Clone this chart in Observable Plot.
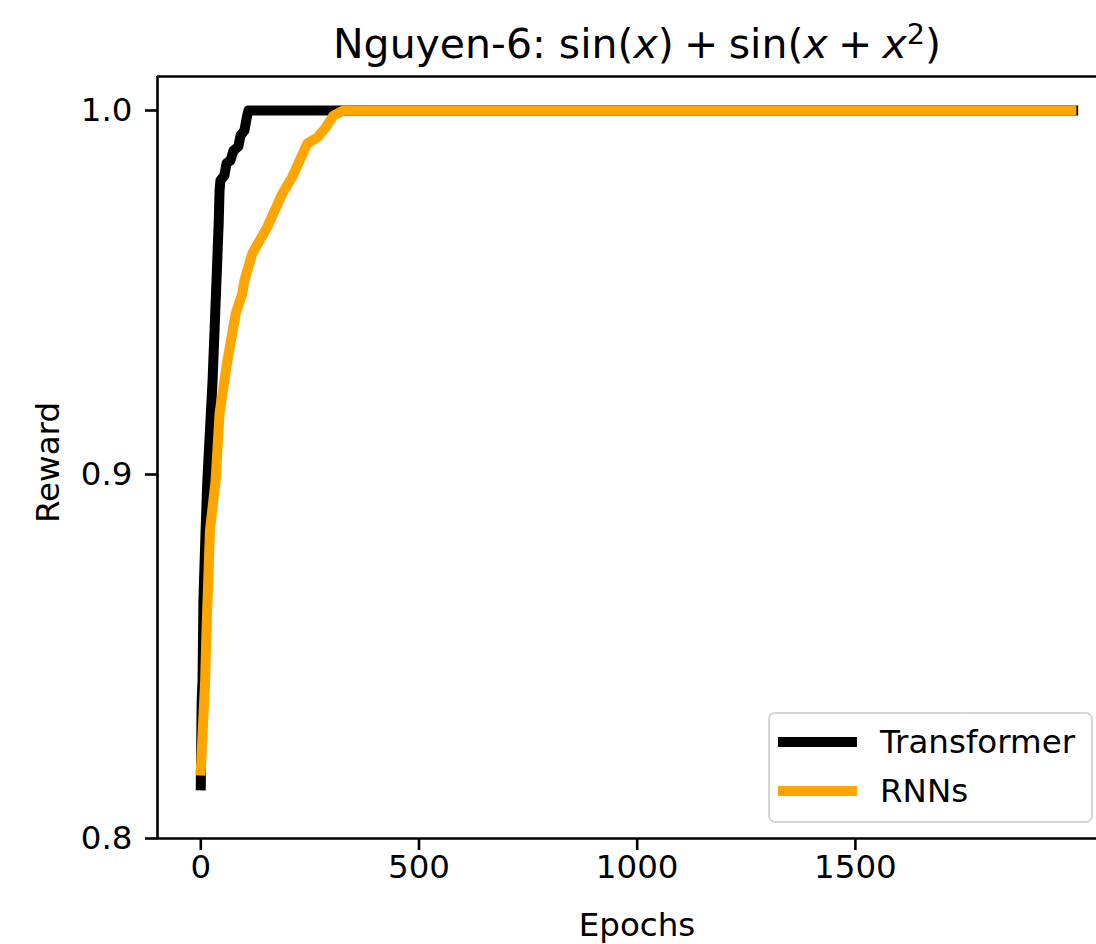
<!DOCTYPE html>
<html>
<head>
<meta charset="utf-8">
<script src="https://cdn.jsdelivr.net/npm/d3@7"></script>
<script src="https://cdn.jsdelivr.net/npm/@observablehq/plot@0.6"></script>
<style>
  html, body { margin: 0; padding: 0; background: white; overflow: hidden; }
  #wrap { position: relative; width: 1096px; height: 944px; font-family: "DejaVu Sans", sans-serif; }
  #title { position: absolute; top: 24px; left: 637px; transform: translateX(-50%); white-space: nowrap;
           font-size: 41px; line-height: 1; color: #000; }
  #title i { font-style: italic; }
  #title sup { font-size: 0.7em; line-height: 0; vertical-align: 0.5em; }
  #title .op { margin: 0 0.25em; }
  #legend { position: absolute; left: 768px; top: 712px; width: 321px; height: 107px;
            border: 2px solid #d6d6d6; border-radius: 7px; background: rgba(255,255,255,0.8);
            font-size: 32.5px; color: #000; }
  .row { position: absolute; left: 0; display: flex; align-items: center; height: 40px; }
  .sw { width: 79px; height: 10px; margin-left: 8px; margin-right: 23px; }
</style>
</head>
<body>
<div id="wrap">
  <div id="chart"></div>
  <div id="title">Nguyen-6: sin(<i>x</i>)<span class="op">+</span>sin(<i>x</i><span class="op">+</span><i>x</i><sup>2</sup>)</div>
  <div id="legend"></div>
</div>
<script>
// ---- data ----
const seriesNames = ["Transformer", "RNNs"];
const seriesColors = ["black", "orange"];

const transformerEpochs = [0, 2, 4, 6, 11, 15, 27, 36, 38, 41, 43, 45, 54, 59, 68, 75, 86, 91, 100, 105, 109, 1999];
const transformerReward = [0.8146, 0.8379, 0.8434, 0.8654, 0.8846, 0.8984, 0.9258, 0.9533, 0.9596, 0.969, 0.978,
                           0.9808, 0.9821, 0.9855, 0.9863, 0.989, 0.9901, 0.9931, 0.9945, 0.9978, 1.0, 1.0];

const rnnEpochs = [0, 10, 13, 21, 34, 43, 60, 80, 95, 100, 118, 152, 187, 209, 244, 267, 286, 304, 327, 1995];
const rnnReward = [0.8187, 0.8434, 0.857, 0.8846, 0.8984, 0.9168, 0.9305, 0.9442, 0.9497, 0.9533, 0.9607,
                   0.9679, 0.9772, 0.9816, 0.9909, 0.9926, 0.9953, 0.9986, 1.0, 1.0];

const xTicks = [0, 500, 1000, 1500];
const yTicks = [0.8, 0.9, 1.0];
const xDomain = [-99.2, 2052.5];
const yDomain = [0.8, 1.00934];

const transformerRows = transformerEpochs.map((e, i) => ({epoch: e, reward: transformerReward[i], series: seriesNames[0]}));
const rnnRows = rnnEpochs.map((e, i) => ({epoch: e, reward: rnnReward[i], series: seriesNames[1]}));

const spineW = 2.6;

const chart = Plot.plot({
  width: 1096,
  height: 944,
  marginLeft: 157,
  marginRight: 0,
  marginTop: 76,
  marginBottom: 106,
  style: {fontFamily: "DejaVu Sans", fontSize: "32.5px", background: "white", color: "black", overflow: "visible"},
  x: {domain: xDomain},
  y: {domain: yDomain},
  marks: [
    Plot.axisX({ticks: xTicks, tickFormat: d => String(d), tickSize: 12, tickPadding: 4, strokeWidth: spineW, label: null}),
    Plot.axisY({ticks: yTicks, tickFormat: d => d.toFixed(1), tickSize: 12, tickPadding: 13, strokeWidth: spineW, label: null}),
    Plot.ruleX([xDomain[0]], {strokeWidth: spineW}),
    Plot.ruleY(yDomain, {strokeWidth: spineW}),
    Plot.line(transformerRows, {x: "epoch", y: "reward", stroke: seriesColors[0], strokeWidth: 10,
                                strokeLinecap: "square", strokeLinejoin: "round"}),
    Plot.line(rnnRows, {x: "epoch", y: "reward", stroke: seriesColors[1], strokeWidth: 10,
                        strokeLinecap: "square", strokeLinejoin: "round"}),
    Plot.text(["Epochs"], {frameAnchor: "bottom", dx: 10, dy: 87, lineAnchor: "middle", textAnchor: "middle", fontSize: 32.5}),
    Plot.text(["Reward"], {frameAnchor: "left", dx: -109, dy: 5, rotate: -90, lineAnchor: "middle", textAnchor: "middle", fontSize: 32.5})
  ]
});
document.getElementById("chart").appendChild(chart);

// legend
const legend = document.getElementById("legend");
seriesNames.forEach((name, i) => {
  const row = document.createElement("div");
  row.className = "row";
  row.style.top = (8 + i * 49) + "px";
  const sw = document.createElement("div");
  sw.className = "sw";
  sw.style.background = seriesColors[i];
  const label = document.createElement("span");
  label.textContent = name;
  row.appendChild(sw);
  row.appendChild(label);
  legend.appendChild(row);
});
</script>
</body>
</html>
